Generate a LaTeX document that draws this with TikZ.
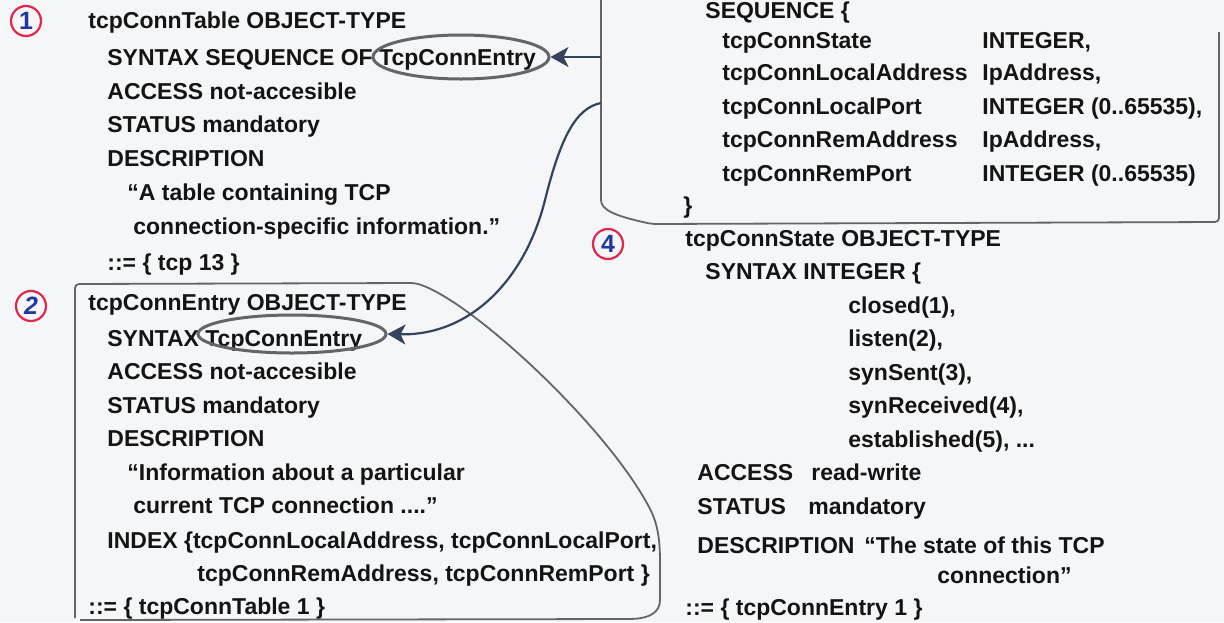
\documentclass[tikz,border=0pt]{standalone}
\usepackage{fontspec}
\setmainfont{Liberation Sans}
\usetikzlibrary{
  arrows.meta,
  positioning,
  shapes.geometric
}
\definecolor{mibink}{HTML}{141414}
\definecolor{mibframe}{HTML}{646569}
\definecolor{mibarrow}{HTML}{34435E}
\definecolor{mibred}{HTML}{E2264E}
\definecolor{mibblue}{HTML}{2236A4}
\definecolor{mibpaper}{HTML}{F5F6F8}

\begin{document}
\begin{tikzpicture}[x=0.5pt, y=-0.5pt,
      code/.style={
        anchor=base west, inner sep=0pt,
        font=\fontsize{11.5}{14}\selectfont\bfseries, text=mibink
      },
      oval/.style={ellipse, draw=mibframe, line width=1.5pt, inner sep=0pt},
      frame/.style={draw=mibframe, line width=0.9pt, rounded corners=2pt},
      link/.style={-{Stealth[length=9pt, width=10pt, inset=2.5pt]}, mibarrow, line width=1.1pt},
      tag/.style={
        circle, draw=mibred, line width=1.1pt, minimum size=15pt, inner sep=0pt,
        font=\fontsize{12.5}{12.5}\selectfont\bfseries, text=mibblue
      }
    ]
      \fill[mibpaper] (0,0) rectangle (1224,622);
      \useasboundingbox (0,0) rectangle (1224,622);

      % numbered tags
      \node[tag] (num1) at (26,21) {1};
      \node[tag] (num2) at (31,306) {\itshape 2};
      \node[tag] (num4) at (608,244) {4};

      % 1: tcpConnTable
      \foreach \x/\y/\t [count=\i] in {
          88/28/{tcpConnTable OBJECT-TYPE},
          107/65/{SYNTAX SEQUENCE OF TcpConnEntry},
          107/99/{ACCESS not-accesible},
          107/132/{STATUS mandatory},
          107/166/{DESCRIPTION},
          127/200/{“A table containing TCP},
          133/234/{connection-specific information.”},
          107/270/{::= \{ tcp 13 \}}}
        \node[code] (tbl-\i) at (\x,\y) {\t};

      % 2: tcpConnEntry
      \foreach \x/\y/\t [count=\i] in {
          88/310/{tcpConnEntry OBJECT-TYPE},
          107/346/{SYNTAX TcpConnEntry},
          107/379/{ACCESS not-accesible},
          107/413/{STATUS mandatory},
          107/446/{DESCRIPTION},
          127/480/{“Information about a particular},
          133/513/{current TCP connection ....”},
          107/548/{INDEX \{tcpConnLocalAddress, tcpConnLocalPort,},
          197/581/{tcpConnRemAddress, tcpConnRemPort \}},
          88/614/{::= \{ tcpConnTable 1 \}}}
        \node[code] (ent-\i) at (\x,\y) {\t};

      % 3: SEQUENCE
      \foreach \x/\y/\t [count=\i] in {
          705/18/{SEQUENCE \{},
          722/48/{tcpConnState}, 982/48/{INTEGER,},
          722/80/{tcpConnLocalAddress}, 982/80/{IpAddress,},
          722/114/{tcpConnLocalPort}, 982/114/{INTEGER (0..65535),},
          722/147/{tcpConnRemAddress}, 982/147/{IpAddress,},
          722/181/{tcpConnRemPort}, 982/181/{INTEGER (0..65535)},
          683/213/{\}}}
        \node[code] (seq-\i) at (\x,\y) {\t};

      % 4: tcpConnState
      \foreach \x/\y/\t [count=\i] in {
          685/246/{tcpConnState OBJECT-TYPE},
          705/279/{SYNTAX INTEGER \{},
          848/313/{closed(1),},
          848/346/{listen(2),},
          848/380/{synSent(3),},
          848/413/{synReceived(4),},
          848/447/{established(5), ...},
          697/480/{ACCESS}, 811/480/{read-write},
          697/514/{STATUS}, 808/514/{mandatory},
          697/553/{DESCRIPTION}, 864/553/{“The state of this TCP},
          937/583/{connection”},
          685/615/{::= \{ tcpConnEntry 1 \}}}
        \node[code] (st-\i) at (\x,\y) {\t};

      % frames
      \draw[frame] (601,-5) -- (601,196) .. controls (601,210) and (615,216) .. (652,224)
        -- (1219,222) -- (1219,32);
      \draw[frame] (75,618) -- (75,284) -- (415,283)
        .. controls (470,300) and (600,420) .. (648,505)
        .. controls (660,528) and (660,548) .. (660,572) -- (660,596)
        .. controls (660,612) and (650,618) .. (630,619) -- (80,620);

      % ovals round TcpConnEntry
      \node[oval, minimum width=88pt, minimum height=22pt] (oval1) at (461,57) {};
      \node[oval, minimum width=94pt, minimum height=19pt] (oval2) at (292,334) {};

      \coordinate (seq-w1) at (601,57);
      \coordinate (seq-w2) at (601,103);
      \draw[link] (seq-w1) -- (oval1);
      \draw[link] (seq-w2) .. controls (575,108) and (560,140) .. (545,200)
        .. controls (525,280) and (470,336) .. (oval2.east);
    \end{tikzpicture}
\end{document}
